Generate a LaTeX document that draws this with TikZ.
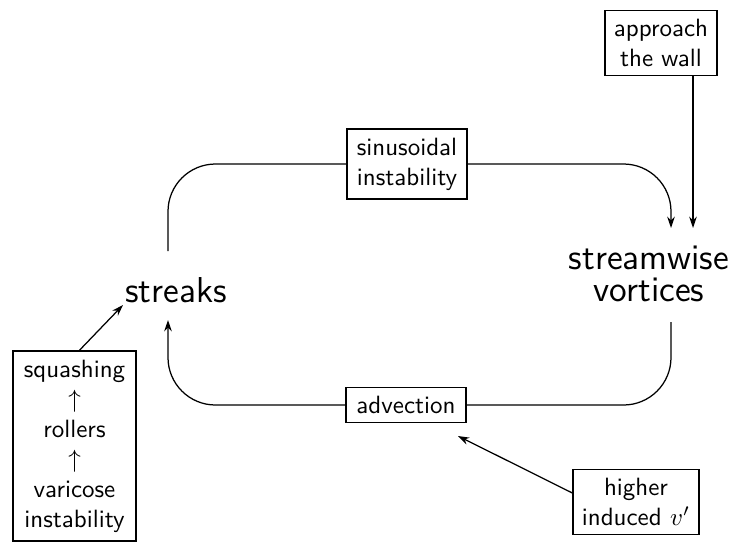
\documentclass[tikz,border=0pt]{standalone}
\usepackage{amsmath}
\usepackage{tikz}
\usetikzlibrary{arrows.meta}
\tikzset{
  box/.style={draw, semithick, align=center, inner sep=3.5pt, minimum height=14pt},
  big/.style={align=center, font=\sffamily\fontsize{14.4}{12.6}\selectfont},
  arr/.style={-{Stealth[length=4.5pt,width=3pt]}},
  loop/.style={rounded corners=19pt}
}

\begin{document}
\begin{tikzpicture}[x=0.4pt, y=-0.4pt, font=\sffamily, line width=0.5pt]
  \useasboundingbox (0,0) rectangle (740,542);
  % main states
  \node[big] (streaks) at (176,290) {streaks};
  \node[big] (vort) at (649,274) {streamwise\\vortices};
  % mechanisms on the loop
  \node[box, minimum width=48pt] (sin) at (407,164) {sinusoidal\\instability};
  \node[box, minimum width=48pt] (adv) at (406,405) {advection};
  % side causes
  \node[box] (wall) at (661,43) {approach\\the wall};
  \node[box] (higher) at (636,502) {higher\\induced $v'$};
  \node[box, inner sep=2pt, minimum width=49pt, minimum height=76pt] (chain) at (74.5,446)
    {squashing\\ $\uparrow$\\ rollers\\ $\uparrow$\\ varicose\\ instability};
  % free ends
  \coordinate (sTop) at (168,251);
  \coordinate (sBot) at (168,320);
  \coordinate (vTop) at (671,228);
  \coordinate (vTopW) at (693,228);
  \coordinate (vBot) at (671,322);
  \coordinate (advTip) at (458,436);
  \coordinate (sTip) at (123,305);
  % the loop
  \draw[loop] (sTop) |- (sin.west);
  \draw[loop, arr] (sin.east) -| (vTop);
  \draw[loop] (vBot) |- (adv.east);
  \draw[loop, arr] (adv.west) -| (sBot);
  % inputs
  \draw[arr] (wall.south -| vTopW) -- (vTopW);
  \draw[arr] ([yshift=3.6pt]higher.west) -- (advTip);
  \draw[arr] ([xshift=2pt]chain.north) -- (sTip);
\end{tikzpicture}
\end{document}
